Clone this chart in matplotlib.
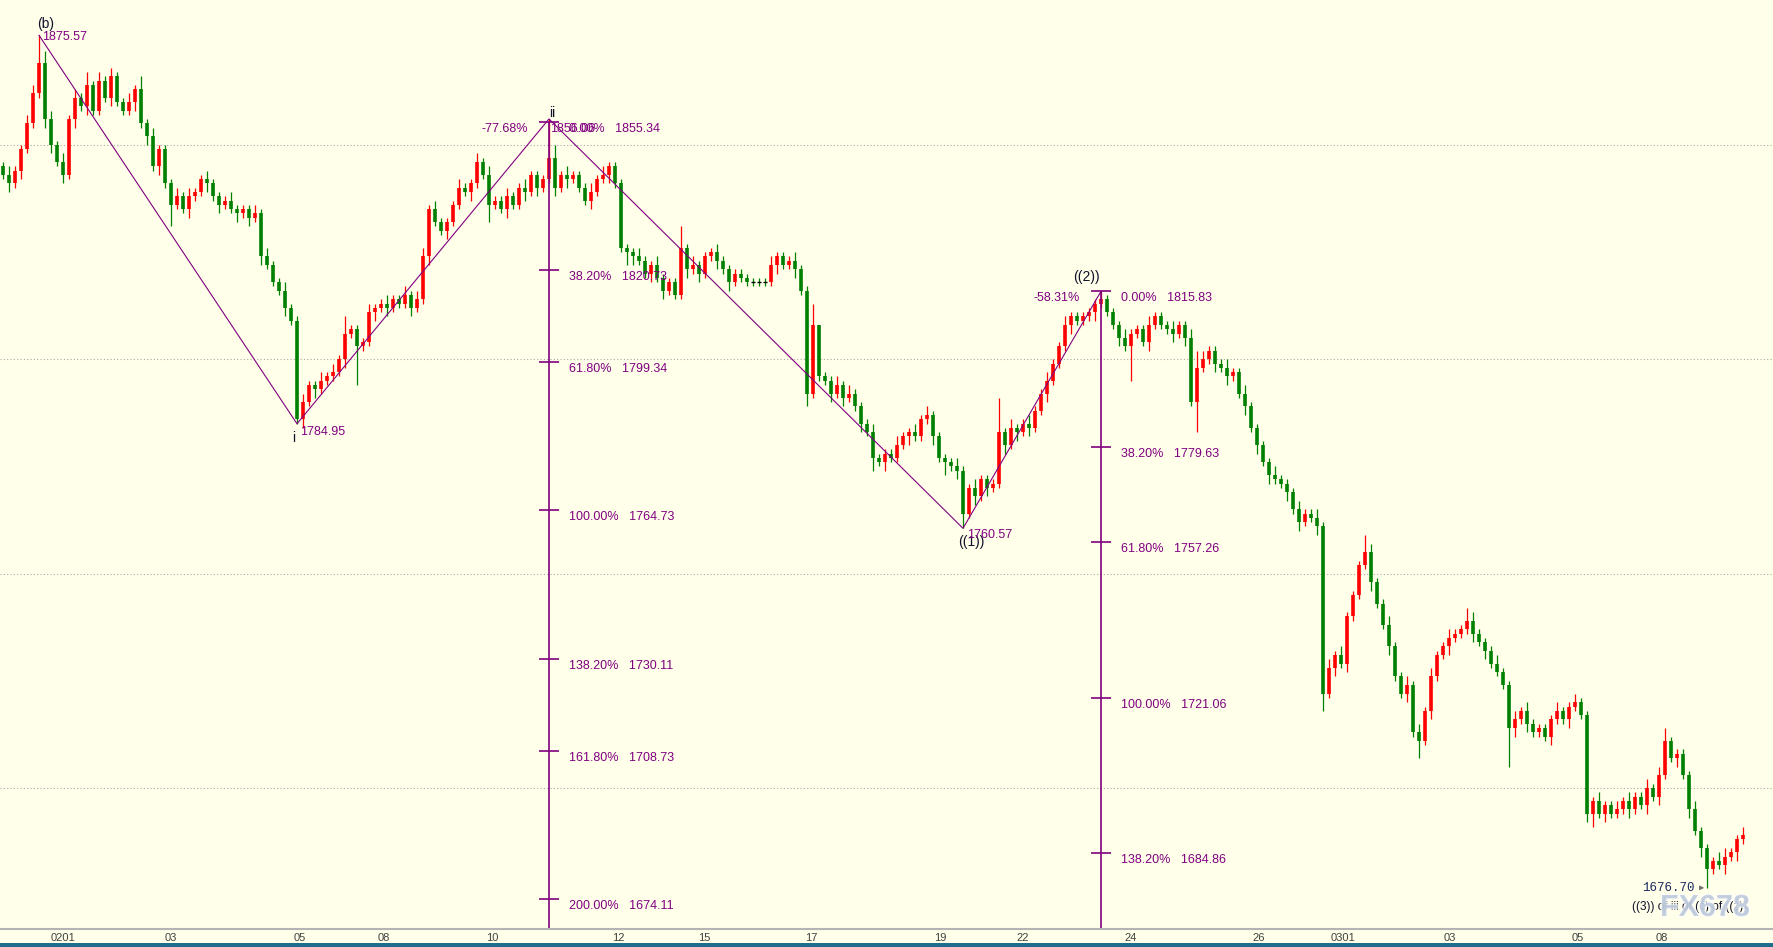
import numpy as np
import matplotlib.pyplot as plt
import matplotlib.patheffects as pe
from matplotlib.patches import Rectangle

# hourly-ish gold candles (closes, open = previous close)
first_open = 1845
closes = [
    1843, 1841, 1844, 1849, 1855, 1862, 1869, 1856, 1850, 1846,
    1843, 1856, 1861, 1859, 1864, 1858, 1865, 1861, 1866, 1860,
    1858, 1860, 1863, 1855, 1852, 1845, 1849, 1841, 1836, 1838,
    1835, 1838, 1839, 1842, 1841, 1838, 1836, 1837, 1835, 1834,
    1835, 1833, 1834, 1824, 1822, 1818, 1816, 1812, 1809, 1786,
    1790, 1794, 1793, 1795, 1796, 1797, 1800, 1806, 1807, 1803,
    1804, 1811, 1812, 1813, 1812, 1814, 1813, 1815, 1812, 1814,
    1824, 1835, 1832, 1830, 1832, 1836, 1840, 1839, 1841, 1846,
    1843, 1836, 1837, 1835, 1838, 1836, 1840, 1839, 1843, 1840,
    1842, 1847, 1840, 1843, 1842, 1843, 1840, 1837, 1839, 1842,
    1843, 1845, 1841, 1826, 1825, 1824, 1823, 1820, 1822, 1819,
    1816, 1818, 1815, 1826, 1821, 1822, 1820, 1824, 1825, 1823,
    1821, 1818, 1820, 1819, 1818, 1818, 1818, 1818, 1822, 1824,
    1822, 1823, 1821, 1816, 1792, 1808, 1796, 1795, 1792, 1794,
    1791, 1792, 1789, 1785, 1783, 1777, 1776, 1778, 1777, 1780,
    1782, 1783, 1782, 1786, 1787, 1782, 1777, 1776, 1775, 1774,
    1764, 1770, 1768, 1772, 1770, 1771, 1783, 1780, 1784, 1783,
    1785, 1784, 1788, 1792, 1795, 1799, 1803, 1808, 1810, 1809,
    1810, 1811, 1813, 1814, 1811, 1808, 1805, 1803, 1806, 1807,
    1804, 1808, 1810, 1808, 1807, 1806, 1808, 1805, 1790, 1798,
    1800, 1802, 1799, 1798, 1796, 1797, 1792, 1789, 1784, 1780,
    1776, 1773, 1772, 1771, 1769, 1765, 1762, 1764, 1763, 1761,
    1722, 1728, 1731, 1729, 1740, 1745, 1752, 1755, 1748, 1743,
    1738, 1733, 1726, 1722, 1724, 1713, 1711, 1718, 1726, 1731,
    1733, 1735, 1736, 1737, 1739, 1736, 1734, 1732, 1729, 1727,
    1724, 1714, 1716, 1718, 1715, 1713, 1714, 1712, 1716, 1718,
    1716, 1719, 1720, 1717, 1694, 1697, 1694, 1696, 1694, 1695,
    1697, 1695, 1698, 1696, 1700, 1698, 1703, 1711, 1707, 1708,
    1703, 1695, 1690, 1686, 1681, 1683, 1682, 1684, 1685, 1688, 1689,
]
# wick lengths beyond the body, in dollars, one digit per candle
upper_wick = ''.join([
    "1211221321", "2121312121", "1213121112", "1211211121", "1121211211",
    "2112121411", "1211211212", "2121112112", "1211211211", "1231211121",
    "2111112112", "1115121112", "1111111121", "1121150112", "1211121112",
    "1121211112", "1121118121", "1211211211", "1110111211", "1211121124",
    "2111211211", "1121112112", "1212111421", "1211212121", "1211321112",
    "1121211112", "1121112112", "1211212311", "11211122112",
])
lower_wick = ''.join([
    "1212111221", "2121211121", "1121212151", "1211212112", "1212111211",
    "2121111219", "1121211121", "1211211121", "1411211212", "1121211121",
    "1211321121", "2111212112", "1211111112", "1121311121", "2112131211",
    "1211121312", "1121211212", "1211211121", "1121112181", "1211121217",
    "1121211212", "1211212112", "4121211121", "1211214121", "1211121211",
    "1921211121", "1211231211", "1211212112", "12121112121",
])

# wave pivots: candle, price, high/low
pivot_idx = [6, 49, 91, 160, 183]
pivot_price = [1875.57, 1784.95, 1856.06, 1760.57, 1815.83]
pivot_kind = ['high', 'low', 'high', 'low', 'high']
last_low_idx = 284
last_low = 1676.70
last_label = '((3)) of iii of (c) of ((z))'

# fibonacci projections
fib1_idx, fib1_top = 91, 1855.34
fib1_pct = ['38.20%', '61.80%', '100.00%', '138.20%', '161.80%', '200.00%']
fib1_val = [1820.73, 1799.34, 1764.73, 1730.11, 1708.73, 1674.11]
fib1_left = '-77.68%'
fib2_idx, fib2_top = 183, 1815.83
fib2_pct = ['38.20%', '61.80%', '100.00%', '138.20%']
fib2_val = [1779.63, 1757.26, 1721.06, 1684.86]
fib2_left = '-58.31%'

tick_labels = ['0201', '03', '05', '08', '10', '12', '15', '17', '19', '22',
               '24', '26', '0301', '03', '05', '08']
tick_idx = [10, 28, 49.5, 63.5, 81.5, 102.5, 116.8, 134.7, 156.2, 170,
            188, 209.2, 223.3, 241.2, 262.5, 276.5]

closes = np.array(closes, dtype=float)
opens = np.concatenate([[first_open], closes[:-1]])
highs = np.maximum(opens, closes) + np.array([int(c) for c in upper_wick])
lows = np.minimum(opens, closes) - np.array([int(c) for c in lower_wick])
for i, p, k in zip(pivot_idx, pivot_price, pivot_kind):
    if k == 'high':
        highs[i] = p
    else:
        lows[i] = p
lows[last_low_idx] = last_low
x = np.arange(len(closes))

bg = '#ffffea'
purple = '#800080'
pt = 0.72  # one pixel in points at dpi 100
font = 'Liberation Sans'

fig = plt.figure(figsize=(17.73, 9.47), dpi=100, facecolor=bg)
ax = fig.add_axes([0, 18 / 947, 1, 929 / 947], facecolor=bg)
ax.set_xlim(-0.5, 295)
ax.set_ylim(1667.1, 1883.8)

ax.set_yticks([1700, 1750, 1800, 1850])
ax.grid(axis='y', color='#a8a8a8', linestyle=(0, (1, 2)), linewidth=0.8)
ax.set_axisbelow(True)
ax.tick_params(axis='y', length=0, labelleft=False)
for s in ['top', 'left', 'right']:
    ax.spines[s].set_visible(False)
ax.spines['bottom'].set_color('#b4b4b4')
ax.spines['bottom'].set_linewidth(1.5)
ax.set_xticks(tick_idx)
ax.set_xticklabels(tick_labels, fontsize=8, color='#404040', family=font)
ax.tick_params(axis='x', length=0, pad=3)

# candles: red up, green down, black dash for doji
up = closes > opens + 0.2
down = closes < opens - 0.2
doji = ~(up | down)
colors = np.where(up, '#ff0000', '#008000')
ax.vlines(x[~doji], lows[~doji], highs[~doji], colors=colors[~doji], linewidth=0.9)
ax.vlines(x[~doji], opens[~doji], closes[~doji], colors=colors[~doji], linewidth=2.6)
ax.vlines(x[doji], lows[doji], highs[doji], colors='#008000', linewidth=0.9)
ax.hlines(closes[doji], x[doji] - 0.3, x[doji] + 0.3, colors='black', linewidth=1)

# wave zigzag
ax.plot(pivot_idx, pivot_price, color=purple, linewidth=0.8)

def note(text, xy, dx, dy, color=purple, ha='left', size=9, fam=font, z=4):
    ax.annotate(text, xy=xy, xytext=(dx * pt, dy * pt), textcoords='offset points',
                ha=ha, va='center', fontsize=size, color=color, family=fam, zorder=z)

# fib projections
hw = 10 / 6
for fi, ftop, pcts, vals, left in [(fib1_idx, fib1_top, fib1_pct, fib1_val, fib1_left),
                                   (fib2_idx, fib2_top, fib2_pct, fib2_val, fib2_left)]:
    ax.vlines(fi, 1667.1, ftop, colors=purple, linewidth=1.2)
    ax.hlines([ftop] + vals, fi - hw, fi + hw, colors=purple, linewidth=1.2)
    for p, v in zip(pcts, vals):
        note(f'{p}   {v:.2f}', (fi, v), 20, -7)
    note(f'0.00%   {ftop:.2f}', (fi, ftop), 20, -7)
    note(left, (fi, ftop), -21, -7, ha='right')

# pivot labels
wave_color = '#10102a'
note('(b)', (6, 1875.57), 7, 11, color=wave_color, ha='center', size=10)
note('1875.57', (6, 1875.57), 3, -2)
note('i', (49, 1784.95), -3, -14, color=wave_color, ha='center', size=10)
note('1784.95', (49, 1784.95), 3, -8)
note('ii', (91, 1856.06), 3, 6, color=wave_color, ha='center', size=10)
note('1856.06', (91, 1856.06), 1, -10)
note('((1))', (160, 1760.57), 8, -14, color=wave_color, ha='center', size=10)
note('1760.57', (160, 1760.57), 4, -7)
note('((2))', (183, 1815.83), -15, 14, color=wave_color, ha='center', size=10)

# last low
ax.annotate('', xy=(last_low_idx, last_low), xytext=(-10 * pt, 0), textcoords='offset points',
            arrowprops=dict(arrowstyle='-|>', color='#707070', lw=0.8, mutation_scale=6))
note('1676.70', (last_low_idx, last_low), -12, 0, color='#1a2a60', ha='right', size=9,
     fam='Liberation Mono')
note(last_label, (last_low_idx, last_low), -17, -19, color=wave_color, ha='center', size=8.5, z=3)

# watermark
ax.text(1705 / 1773, 1 - 908 / 929, 'FX678', transform=ax.transAxes, ha='center', va='center',
        fontsize=22, fontweight='bold', color='#b6c4d8', alpha=0.7,
        family=['Liberation Sans Narrow', 'Liberation Sans'], zorder=3.5,
        path_effects=[pe.withStroke(linewidth=2, foreground='white')])

# bottom band
fig.patches.append(Rectangle((0, 0), 1, 4 / 947, transform=fig.transFigure,
                             facecolor='#1e6d8e', edgecolor='none'))

fig.savefig('out.png', dpi=100, facecolor=bg)
